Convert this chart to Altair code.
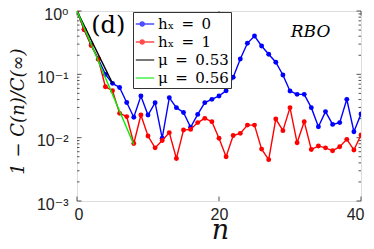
import altair as alt
import pandas as pd

# ---- data ----
n = list(range(41))
hx0 = [1.0, 0.51, 0.29, 0.175, 0.10, 0.072, 0.062, 0.036, 0.021, 0.0455,
       0.0228, 0.0357, 0.0098, 0.0428, 0.0298, 0.025, 0.0146, 0.0233, 0.0357, 0.0403,
       0.0455, 0.0552, 0.0897, 0.175, 0.309, 0.403, 0.28, 0.207, 0.155, 0.0977,
       0.0546, 0.0483, 0.0483, 0.0298, 0.0149, 0.0258, 0.0162, 0.0173, 0.0403, 0.0124,
       0.0236]
hx1 = [1.0, 0.51, 0.284, 0.173, 0.0638, 0.0552, 0.0242, 0.0215, 0.0081, 0.0228,
       0.0106, 0.0069, 0.009, 0.012, 0.0047, 0.0132, 0.0135, 0.0173, 0.0202, 0.0179,
       0.0098, 0.005, 0.0108, 0.0117, 0.0158, 0.0158, 0.0066, 0.0045, 0.0197, 0.0129,
       0.0298, 0.0083, 0.0179, 0.0065, 0.0074, 0.0069, 0.0062, 0.0072, 0.0094, 0.0064,
       0.011]
fit053_n = [0, 5]
fit053_v = [1.0, 0.072]
fit056_n = [0, 8]
fit056_v = [1.0, 0.0078]

SP = "\u2002"
series = [f"h\u2093{SP}={SP}0", f"h\u2093{SP}={SP}1", f"\u03bc{SP}={SP}0.53", f"\u03bc{SP}={SP}0.56"]
colors = ["#0000ff", "#ff0000", "#000000", "#00ee00"]

x_ticks = [0, 20, 40]
y_major = [0.001, 0.01, 0.1, 1.0]
y_labels = ["10\u207b\u00b3", "10\u207b\u00b2", "10\u207b\u00b9", "10\u2070"]
y_minor = [k * 10.0 ** d for d in (-3, -2, -1) for k in range(2, 10)]

annot_text = ["(d)", "RBO"]
annot_n = [4.4, 32.9]
annot_v = [0.45, 0.39]

# ---- tables ----
rows = []
for i, v in zip(n, hx0):
    rows.append({"n": i, "v": v, "series": series[0]})
for i, v in zip(n, hx1):
    rows.append({"n": i, "v": v, "series": series[1]})
for i, v in zip(fit053_n, fit053_v):
    rows.append({"n": i, "v": v, "series": series[2]})
for i, v in zip(fit056_n, fit056_v):
    rows.append({"n": i, "v": v, "series": series[3]})
df = pd.DataFrame(rows)

W, H = 284, 190
xscale = alt.Scale(domain=[0, 40], nice=False, zero=False)
yscale = alt.Scale(type="log", domain=[0.001, 1], nice=False)
cscale = alt.Scale(domain=series, range=colors)

dot = ("M-1,0H1"
       "M-0.52,0a0.22,0.22 0 1,0 0.44,0a0.22,0.22 0 1,0 -0.44,0"
       "M-0.42,0a0.12,0.12 0 1,0 0.24,0a0.12,0.12 0 1,0 -0.24,0"
       "M-0.34,0a0.04,0.04 0 1,0 0.08,0a0.04,0.04 0 1,0 -0.08,0")
line_only = "M-1,0H1"
shape_scale = alt.Scale(domain=series, range=[dot, dot, line_only, line_only])

label_expr = " : ".join(
    f"datum.value < {v * 1.5} ? '{lab}'" for v, lab in zip(y_major[:-1], y_labels[:-1])
) + f" : '{y_labels[-1]}'"

xaxis = alt.Axis(values=x_ticks, title="n", titleFont="DejaVu Serif", titleFontStyle="italic",
                 titleFontWeight="normal", titleFontSize=27, titleX=143, titleY=37,
                 titleBaseline="alphabetic", titleAlign="center", titleColor="#111",
                 labelFont="Liberation Sans", labelFontSize=16, labelPadding=5,
                 labelColor="#222", labelFlush=True, labelFlushOffset=3,
                 ticks=False, domain=False, grid=False)
yaxis = alt.Axis(values=y_major, labelExpr=label_expr, title="1 \u2212 C(n)/C(\u221e)",
                 titleFont="DejaVu Serif", titleFontStyle="italic", titleFontWeight="normal",
                 titleFontSize=18, titleAngle=270, titleX=-59, titleY=100,
                 titleBaseline="middle", titleAlign="center", titleColor="#111",
                 labelFont="Liberation Sans, DejaVu Sans", labelFontSize=16, labelPadding=9,
                 labelOffset=3, labelColor="#222", labelFlush=False,
                 ticks=False, domain=False, grid=False)

X = alt.X("n:Q", scale=xscale, axis=xaxis)
Y = alt.Y("v:Q", scale=yscale, axis=yaxis)

# legend carrier (no marks drawn, only the legend)
legend_layer = alt.Chart(df).transform_filter("false").mark_point(filled=False).encode(
    x=X, y=Y,
    color=alt.Color("series:N", scale=cscale,
                    legend=alt.Legend(title=None, orient="none", legendX=56, legendY=1,
                                      padding=2, rowPadding=0, symbolSize=340,
                                      symbolStrokeWidth=1.5, labelFont="DejaVu Serif",
                                      labelFontSize=15, labelColor="#000", labelOffset=3,
                                      strokeColor="#333", fillColor="white", labelLimit=200)),
    shape=alt.Shape("series:N", scale=shape_scale, legend=alt.Legend(title=None)),
)

layers = []
for k, s in enumerate(series):
    sub = df[df.series == s]
    layers.append(alt.Chart(sub).mark_line(strokeWidth=1.4, clip=True).encode(
        x=X, y=Y, color=alt.Color("series:N", scale=cscale, legend=None)))
    if k < 2:
        layers.append(alt.Chart(sub).mark_point(filled=True, size=24, opacity=1, clip=True).encode(
            x=X, y=Y, color=alt.Color("series:N", scale=cscale, legend=None)))

# annotations
ann = pd.DataFrame({"t": annot_text, "n": annot_n, "v": annot_v})
txt_d = alt.Chart(ann.iloc[[0]]).mark_text(font="DejaVu Serif", fontSize=24, baseline="alphabetic",
                                           align="center", color="#000").encode(
    x=X, y=Y, text="t:N")
txt_r = alt.Chart(ann.iloc[[1]]).mark_text(font="DejaVu Serif", fontSize=17, fontStyle="italic",
                                           baseline="alphabetic", align="center", color="#000").encode(
    x=X, y=Y, text="t:N")

# inward ticks
ymaj = pd.DataFrame({"v": y_major})
ymin = pd.DataFrame({"v": y_minor})
xt = pd.DataFrame({"n": x_ticks})
tick_color = "#555"
tick_layers = []
for d, length in ((ymaj, 4.5), (ymin, 2.5)):
    tick_layers.append(alt.Chart(d).mark_rule(color=tick_color, strokeWidth=1).encode(
        y=Y, x=alt.value(0), x2=alt.value(length)))
    tick_layers.append(alt.Chart(d).mark_rule(color=tick_color, strokeWidth=1).encode(
        y=Y, x=alt.value(W - length), x2=alt.value(W)))
tick_layers.append(alt.Chart(xt).mark_rule(color=tick_color, strokeWidth=1).encode(
    x=X, y=alt.value(H), y2=alt.value(H - 4.5)))
tick_layers.append(alt.Chart(xt).mark_rule(color=tick_color, strokeWidth=1).encode(
    x=X, y=alt.value(0), y2=alt.value(4.5)))

chart = alt.layer(legend_layer, *tick_layers, *layers, txt_d, txt_r).properties(
    width=W, height=H, autosize=alt.AutoSizeParams(type="none"),
    padding={"left": 69, "top": 3, "right": 5, "bottom": 40},
).configure_view(stroke="#666", strokeWidth=1).configure(background="white")

chart.save("out.html", embed_options={"renderer": "svg", "actions": False})
